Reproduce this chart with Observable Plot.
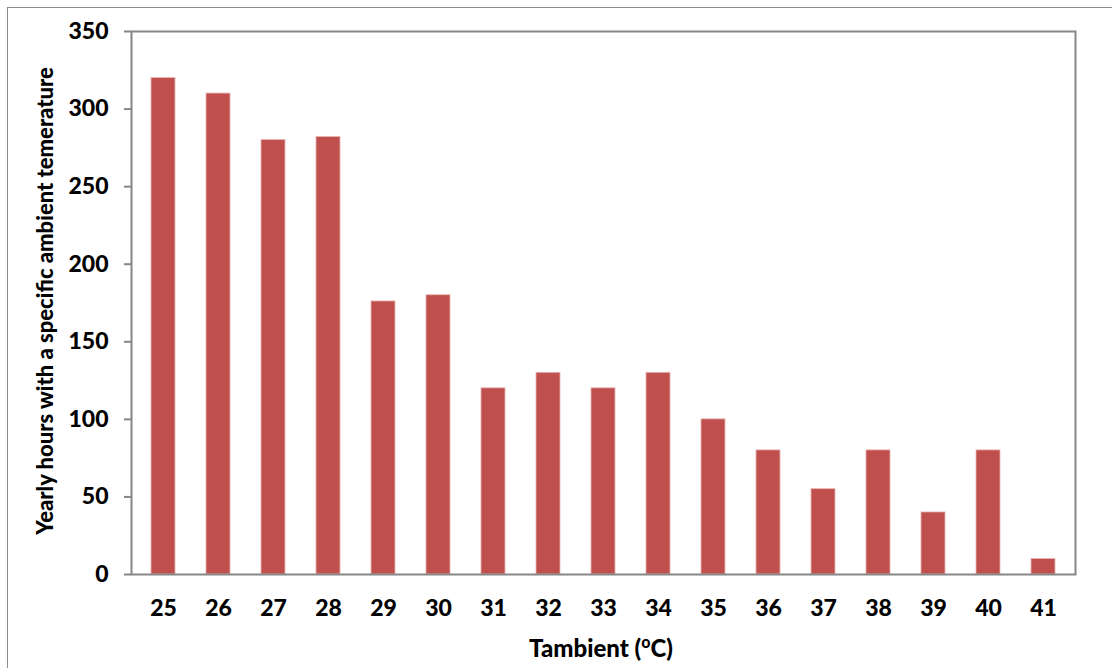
<!DOCTYPE html>
<html>
<head>
<meta charset="utf-8">
<script src="https://cdn.jsdelivr.net/npm/d3@7"></script>
<script src="https://cdn.jsdelivr.net/npm/@observablehq/plot@0.6"></script>
<style>
  html, body { margin: 0; padding: 0; background: #fff; overflow: hidden; }
  #wrap { position: relative; width: 1112px; height: 668px; }
  #border { position: absolute; left: 7px; top: 7px; width: 1200px; height: 800px; border: 1.5px solid #8c8c8c; pointer-events: none; }
  #chart { position: absolute; left: 0; top: 0; }
</style>
</head>
<body>
<div id="wrap"><div id="chart"></div><div id="border"></div></div>
<script>
const temps = ["25","26","27","28","29","30","31","32","33","34","35","36","37","38","39","40","41"];
const hours = [320, 310, 280, 282, 176, 180, 120, 130, 120, 130, 100, 80, 55, 80, 40, 80, 10];
const yTicks = [0, 50, 100, 150, 200, 250, 300, 350];
const yLabel = "Yearly hours with a specific ambient temerature";
const xLabelMain = "Tambient (";
const xLabelSup = "o";
const xLabelEnd = "C)";

const data = temps.map((t, i) => ({t, h: hours[i]}));
const font = "Lato, 'Open Sans', sans-serif";
const weight = 900;

const chart = Plot.plot({
  width: 1112,
  height: 668,
  marginLeft: 131,
  marginRight: 37,
  marginTop: 31,
  marginBottom: 94,
  style: {fontFamily: font, fontSize: "23px", fontWeight: weight, color: "#000", background: "transparent"},
  x: {domain: temps, paddingInner: 0.566, paddingOuter: 0.283, label: null},
  y: {domain: [0, 350], label: null},
  marks: [
    Plot.barY(data, {x: "t", y: "h", fill: "#C0504D", stroke: "#e8b4b3", strokeWidth: 0.8}),
    Plot.axisY({ticks: yTicks, tickSize: 7, stroke: "#868686", strokeWidth: 2, tickPadding: 16, fontSize: 23, fontWeight: weight, fill: "#000", label: null}),
    Plot.axisX({tickSize: 0, tickPadding: 25, fontSize: 23, fontWeight: weight, fill: "#000", label: null}),
    Plot.frame({stroke: "#868686", strokeWidth: 2})
  ]
});
document.getElementById("chart").appendChild(chart);

const svg = d3.select(chart);
const xt = svg.append("text")
  .attr("x", 601).attr("y", 657)
  .attr("text-anchor", "middle")
  .attr("font-family", font).attr("font-size", 24).attr("font-weight", weight).attr("fill", "#000");
xt.append("tspan").text(xLabelMain);
xt.append("tspan").attr("font-size", 16).attr("dy", -9).text(xLabelSup);
xt.append("tspan").attr("dy", 9).text(xLabelEnd);

svg.append("text")
  .attr("transform", "translate(53,301) rotate(-90)")
  .attr("text-anchor", "middle")
  .attr("font-family", font).attr("font-size", 22).attr("font-weight", weight).attr("fill", "#000")
  .text(yLabel);
</script>
</body>
</html>
